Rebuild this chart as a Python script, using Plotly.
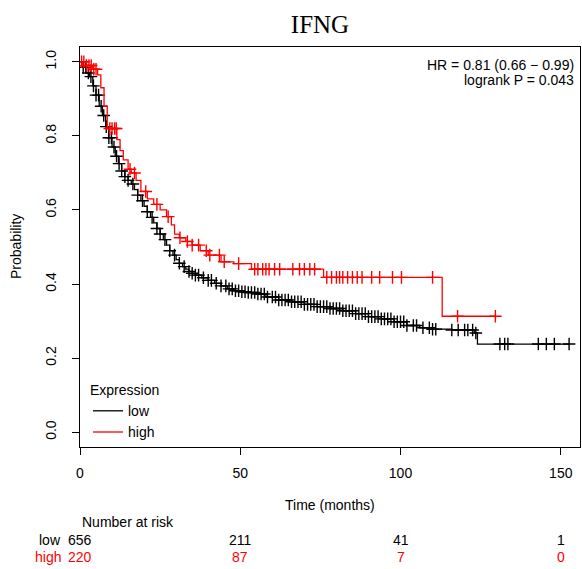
import plotly.graph_objects as go

# ---- data ----
low_t = [0, 1, 2, 3, 4, 5, 6, 7, 8, 9, 10, 11, 12, 13, 14, 15, 16, 17, 18, 19, 20,
         21, 22, 23, 24, 25, 26, 27, 28, 29, 30, 31, 32, 33, 34, 35, 36, 38, 40, 42,
         44, 46, 48, 50, 52, 55, 58, 62, 66, 70, 74, 78, 82, 86, 90, 94, 98, 102,
         106, 110, 116, 123, 124]
low_s = [1.0, 0.985, 0.97, 0.96, 0.935, 0.91, 0.88, 0.855, 0.825, 0.795, 0.77, 0.745,
         0.725, 0.705, 0.69, 0.68, 0.67, 0.655, 0.64, 0.625, 0.61, 0.595, 0.58, 0.565,
         0.55, 0.535, 0.52, 0.505, 0.49, 0.478, 0.466, 0.456, 0.447, 0.44, 0.434,
         0.429, 0.424, 0.417, 0.41, 0.402, 0.395, 0.387, 0.382, 0.379, 0.377, 0.373,
         0.365, 0.357, 0.352, 0.345, 0.339, 0.334, 0.328, 0.32, 0.312, 0.306, 0.298,
         0.288, 0.282, 0.278, 0.276, 0.268, 0.238]
low_end = 152.6
low_cens = [1, 1.8, 2.6, 3.4, 4.2, 5, 5.8, 6.6, 7.4, 8.2, 9, 9.8, 10.6, 11.4, 12.2, 13,
            14, 15, 16.5, 18, 19.5, 21, 22.5, 24, 25, 26.5, 28, 29.5, 31, 32.5, 34, 35,
            36, 37, 38.5, 40, 41, 42.5, 44, 45.5, 46.5, 47.5, 48.5, 49.5, 50.5, 51.5,
            52.5, 53.5, 54.5, 55.5, 56.5, 57.5, 58.5, 60, 61, 62, 63, 64, 65, 66, 67,
            68, 69, 70, 71, 72, 73, 74, 75, 76, 77, 78, 79, 80, 81, 82, 83, 84, 85, 86,
            87, 88, 89, 90, 91, 92, 93, 94, 95, 96, 97, 98, 99, 100, 101, 102, 104, 105,
            107, 109, 110, 111, 116, 118, 120, 121, 122.5, 123.5, 131, 132.5, 133.5,
            143, 145.5, 148, 152.6]

high_t = [0, 2, 4, 5.5, 6.5, 7.5, 8.5, 11.5, 12.5, 13.5, 15, 16, 17.5, 19, 21, 23, 25,
          27, 28.5, 29.5, 31, 33, 35, 37.5, 40, 44, 48, 53.5, 76, 113]
high_s = [1.0, 0.99, 0.98, 0.965, 0.93, 0.88, 0.82, 0.79, 0.76, 0.735, 0.71, 0.70,
          0.68, 0.65, 0.63, 0.615, 0.60, 0.582, 0.56, 0.535, 0.525, 0.515, 0.505, 0.49,
          0.478, 0.46, 0.455, 0.44, 0.418, 0.313]
high_end = 129.6
high_cens = [0.5, 1.2, 2, 2.8, 3.5, 4.3, 5, 9.3, 10, 10.8, 11.3, 15.6, 17, 20.5, 24,
             27.5, 31.2, 33.5, 35, 37, 39.4, 40.5, 43.5, 45, 49.5, 54.5, 55.5, 57, 58,
             59, 60.7, 62.3, 66.4, 68.5, 70, 71.7, 73.2, 77, 78.5, 80, 81, 82, 83.5, 85,
             86.5, 88, 91, 93.5, 97.5, 100.3, 110, 117.8, 129.6]

risk_times = [0, 50, 100, 150]
risk_low = [656, 211, 41, 1]
risk_high = [220, 87, 7, 0]

x_ticks = [0, 50, 100, 150]
y_ticks = [0.0, 0.2, 0.4, 0.6, 0.8, 1.0]

title_text = "IFNG"
hr_text = "HR = 0.81 (0.66 \u2212 0.99)"
p_text = "logrank P = 0.043"

BLACK = "#000000"
RED = "#FF0000"
FONT = "Liberation Sans, Arial, sans-serif"


def surv_at(ts, ss, t):
    s = ss[0]
    for ti, si in zip(ts, ss):
        if ti <= t:
            s = si
        else:
            break
    return s


fig = go.Figure()

for name, ts, ss, end, cens, col in [
    ("low", low_t, low_s, low_end, low_cens, BLACK),
    ("high", high_t, high_s, high_end, high_cens, RED),
]:
    fig.add_trace(go.Scatter(
        x=ts + [end], y=ss + [ss[-1]], mode="lines", name=name,
        line=dict(color=col, width=1.3, shape="hv"), hoverinfo="skip"))
    fig.add_trace(go.Scatter(
        x=cens, y=[surv_at(ts, ss, c) for c in cens], mode="markers",
        showlegend=False, hoverinfo="skip",
        marker=dict(symbol="cross-thin", size=9, color=col,
                    line=dict(color=col, width=1.4))))

annotations = [
    dict(text=hr_text, x=576, y=65),
    dict(text=p_text, x=576, y=80),
]
ann = []
for a in annotations:
    ann.append(dict(text=a["text"], xref="paper", yref="paper",
                    x=(a["x"] - 80) / 500, y=(447 - a["y"]) / 400,
                    xanchor="right", yanchor="middle", showarrow=False,
                    font=dict(family=FONT, size=14, color=BLACK)))

# axis titles
ann.append(dict(text="Time (months)", xref="paper", yref="paper",
                x=0.5, y=(447 - 505) / 400, xanchor="center", yanchor="middle",
                showarrow=False, font=dict(family=FONT, size=14, color=BLACK)))
ann.append(dict(text="Probability", xref="paper", yref="paper",
                x=(16 - 80) / 500, y=0.5, xanchor="center", yanchor="middle",
                textangle=-90, showarrow=False,
                font=dict(family=FONT, size=14, color=BLACK)))

# risk table
ann.append(dict(text="Number at risk", xref="x", yref="paper", x=0,
                y=(447 - 522) / 400, xanchor="left", yanchor="middle",
                showarrow=False, font=dict(family=FONT, size=14, color=BLACK)))
for label, vals, col, ypix in [("low", risk_low, BLACK, 540),
                               ("high", risk_high, RED, 557)]:
    ann.append(dict(text=label, xref="paper", yref="paper", x=(63 - 80) / 500,
                    y=(447 - ypix) / 400, xanchor="right", yanchor="middle",
                    showarrow=False, font=dict(family=FONT, size=14, color=col)))
    for t, v in zip(risk_times, vals):
        ann.append(dict(text=str(v), xref="x", yref="paper", x=t,
                        y=(447 - ypix) / 400, xanchor="center", yanchor="middle",
                        showarrow=False, font=dict(family=FONT, size=14, color=col)))

fig.update_layout(
    width=582, height=569,
    margin=dict(l=80, r=2, t=47, b=122, pad=0),
    paper_bgcolor="white", plot_bgcolor="white",
    title=dict(text=title_text, x=(320) / 582, xref="container", xanchor="center",
               y=1 - 24 / 569, yref="container", yanchor="middle",
               font=dict(family="Liberation Serif, Times New Roman, serif",
                         size=25, color=BLACK)),
    showlegend=True,
    legend=dict(x=0.016, y=(447 - 377) / 400, xanchor="left", yanchor="top",
                bgcolor="rgba(0,0,0,0)", borderwidth=0,
                title=dict(text="Expression", font=dict(family=FONT, size=14,
                                                        color=BLACK)),
                font=dict(family=FONT, size=14, color=BLACK),
                tracegroupgap=0, itemwidth=30),
    annotations=ann,
    xaxis=dict(range=[0, 156], tickvals=x_ticks, ticks="outside", ticklen=7,
               tickcolor=BLACK, showline=True, mirror=True, linecolor=BLACK,
               linewidth=1, showgrid=False, zeroline=False,
               tickfont=dict(family=FONT, size=14, color=BLACK),
               ticklabelstandoff=6),
    yaxis=dict(range=[-0.04, 1.04], tickvals=y_ticks, tickformat=".1f",
               ticks="outside", ticklen=7, tickcolor=BLACK, showline=True,
               mirror=True, linecolor=BLACK, linewidth=1, showgrid=False,
               zeroline=False, tickangle=-90,
               tickfont=dict(family=FONT, size=14, color=BLACK),
               ticklabelstandoff=10),
)

fig.write_html("out.html",
               config={"displayModeBar": False, "staticPlot": True},
               post_script="document.body.style.margin='0';"
                           "document.body.style.overflow='hidden';")
